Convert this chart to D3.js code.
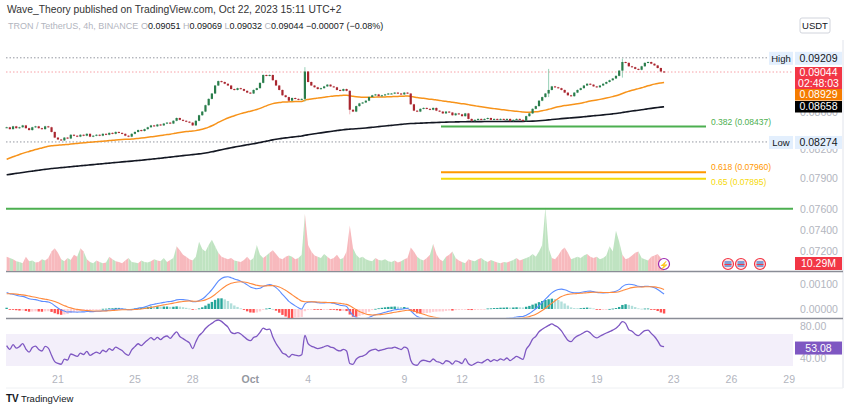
<!DOCTYPE html>
<html>
<head>
<meta charset="utf-8">
<script src="https://cdn.jsdelivr.net/npm/d3@7"></script>
<style>
  body { margin: 0; background: #fff; }
  svg { font-family: "Liberation Sans", Arial, sans-serif; }
</style>
</head>
<body>
<svg id="chart" width="850" height="409"></svg>
<script>
// 4h closes, Sep 18 08:00 -> Oct 22 12:00 (one row per day)
const closes = [
  .0843,.0841,.0844,.0842,
  .0843,.0845,.0842,.0840,.0843,.0844,
  .0842,.0841,.0844,.0843,.0838,.0832,
  .0830,.0829,.0832,.0831,.0835,.0834,
  .0833,.0835,.0834,.0836,.0833,.0834,
  .0835,.0834,.0836,.0835,.0837,.0836,
  .0838,.0837,.0836,.0834,.0833,.0836,
  .0838,.0840,.0839,.0841,.0843,.0845,
  .0844,.0846,.0845,.0847,.0848,.0847,
  .0850,.0853,.0851,.0850,.0849,.0848,
  .0845,.0850,.0856,.0860,.0867,.0874,
  .0880,.0889,.0894,.0893,.0891,.0889,
  .0885,.0884,.0886,.0885,.0883,.0881,
  .0880,.0884,.0886,.0892,.0901,.0900,
  .0901,.0895,.0889,.0884,.0878,.0876,
  .0872,.0875,.0874,.0873,.0874,.0905,
  .0893,.0889,.0887,.0885,.0886,.0888,
  .0890,.0888,.0887,.0884,.0883,.0885,
  .0883,.0862,.0860,.0866,.0869,.0870,
  .0872,.0876,.0878,.0879,.0877,.0878,
  .0879,.0880,.0880,.0881,.0880,.0879,
  .0881,.0880,.0868,.0861,.0860,.0863,
  .0864,.0863,.0862,.0864,.0861,.0860,
  .0858,.0860,.0859,.0856,.0858,.0857,
  .0855,.0858,.0852,.0850,.0851,.0852,
  .0851,.0852,.0853,.0851,.0852,.0851,
  .0852,.0851,.0852,.0850,.0851,.0852,
  .0851,.0850,.0855,.0858,.0863,.0866,
  .0872,.0876,.0880,.0884,.0888,.0887,
  .0886,.0884,.0881,.0878,.0877,.0881,
  .0884,.0886,.0889,.0891,.0890,.0888,
  .0887,.0889,.0891,.0893,.0895,.0897,
  .0900,.0906,.0916,.0915,.0911,.0910,
  .0908,.0907,.0911,.0915,.0916,.0914,
  .0912,.0909,.0905,.09044
];
// volume in millions, same candles
const volumes = [
  22,20,18,15,
  14,12,22,15,16,13,
  14,18,16,20,30,35,
  28,18,15,20,17,25,
  22,35,30,18,14,12,
  16,14,12,13,22,18,
  15,14,12,16,20,14,
  13,12,16,14,13,15,
  18,16,15,20,14,17,
  20,38,32,25,22,18,
  16,22,45,34,30,40,
  48,38,28,22,20,18,
  20,16,15,14,17,22,
  16,20,40,25,20,24,
  28,32,26,20,18,22,
  24,22,18,20,25,88,
  40,30,24,22,20,26,
  22,18,20,25,18,20,
  30,70,35,25,20,22,
  18,16,15,20,17,16,
  18,15,14,16,13,15,
  18,20,36,30,22,18,
  16,20,25,42,26,18,
  15,22,25,30,20,16,
  14,12,18,16,15,18,
  20,16,14,17,15,13,
  12,14,13,15,17,20,
  16,18,20,22,26,22,
  30,40,98,35,20,18,
  24,32,36,28,18,20,
  22,20,24,26,22,20,
  22,18,20,24,38,30,
  62,45,25,18,20,24,
  28,30,20,18,16,22,
  24,26,20,10.29
];
// notable wicks: [candle index, high, low]
const bigWicks = [[93, .0910, .0871], [107, .0884, .0857], [169, .0908, .0876], [192, .0920, .0898]];

// indicator seeds (history before the visible range)
const emaSeeds = { ema50: .0808, ema200: .0793, ema12: .0841, ema26: .0834, signal: .0006 };
const rsiSeeds = { gain: .00010, loss: .00008 };

const priceTicks = [0.072, 0.074, 0.076, 0.079, 0.082, 0.086];
const dayTicks = [0, 4, 7, 10, 13, 18, 21, 25, 28, 32, 35, 38];
const dayLabels = ['21', '25', '28', 'Oct', '4', '9', '12', '16', '19', '23', '26', '29'];
const fibLevels = [
  { label: '0.382 (0.08437)', value: 0.08437, color: '#4caf50', dy: -2 },
  { label: '0.618 (0.07960)', value: 0.07960, color: '#ff9800', dy: -2 },
  { label: '0.65 (0.07895)', value: 0.07895, color: '#f5d90a', dy: 6.5 }
];

const svg = d3.select('#chart');
const L = 6, R = 793;

const x = d3.scaleLinear().domain([-2.7, 38.2]).range([L, R]);
const y = d3.scaleLog().domain([0.0703, 0.0942]).range([270, 40]);
const yVol = d3.scaleLinear().domain([0, 100]).range([271, 206]);
const yMacd = d3.scaleLinear().domain([-0.00036, 0.0015]).range([318, 271.5]);
const yRsi = d3.scaleLinear().domain([0, 100]).range([390, 310]);

const candles = closes.map((c, i) => {
  const open = i === 0 ? c : closes[i - 1];
  let high = Math.max(open, c) + 0.00006, low = Math.min(open, c) - 0.00006;
  const w = bigWicks.find(b => b[0] === i);
  if (w) { high = w[1]; low = w[2]; }
  return { i, day: -3 + (8 + 4 * i) / 24, open, close: c, high, low, vol: volumes[i], up: c >= open };
});

// indicators
const ema = (seed, n) => { const k = 2 / (n + 1); let e = seed; return closes.map(c => (e = c * k + e * (1 - k))); };
const ema50 = ema(emaSeeds.ema50, 50), ema200 = ema(emaSeeds.ema200, 200);
const e12 = ema(emaSeeds.ema12, 12), e26 = ema(emaSeeds.ema26, 26);
const macd = e12.map((v, i) => v - e26[i]);
let sg = emaSeeds.signal;
const signal = macd.map(m => (sg = m * 0.2 + sg * 0.8));
let ag = rsiSeeds.gain, al = rsiSeeds.loss;
const rsi = closes.map((c, i) => {
  const ch = i === 0 ? 0 : c - closes[i - 1];
  ag = (ag * 13 + Math.max(ch, 0)) / 14;
  al = (al * 13 + Math.max(-ch, 0)) / 14;
  return 100 - 100 / (1 + ag / al);
});

// header
svg.append('text').attr('x', 7).attr('y', 13).attr('font-size', 10.3).attr('fill', '#333')
  .text('Wave_Theory published on TradingView.com, Oct 22, 2023 15:11 UTC+2');
const leg = svg.append('text').attr('x', 8).attr('y', 29).attr('font-size', 9).attr('fill', '#b2b5be');
leg.append('tspan').text('TRON / TetherUS, 4h, BINANCE  ');
[['O', '0.09051'], ['H', '0.09069'], ['L', '0.09032'], ['C', '0.09044']].forEach(([k, v]) => {
  leg.append('tspan').text(' ' + k);
  leg.append('tspan').attr('fill', '#131722').text(v + ' ');
});
leg.append('tspan').attr('fill', '#131722').text(' \u22120.00007 (\u22120.08%)');

// frame & pane separators
svg.append('line').attr('x1', R + 50).attr('x2', R + 50).attr('y1', 40).attr('y2', 388).attr('stroke', '#e0e3eb');
svg.append('line').attr('x1', L).attr('x2', R + 50).attr('y1', 388).attr('y2', 388).attr('stroke', '#eef0f3');
[271.5, 318.5].forEach(yy => svg.append('line').attr('x1', L).attr('x2', R + 50).attr('y1', yy).attr('y2', yy)
  .attr('stroke', '#8a8d96').attr('stroke-width', 1.5));

// price axis
svg.append('g').selectAll('text').data(priceTicks).join('text')
  .attr('x', 800).attr('y', d => y(d) + 4).attr('font-size', 10.5).attr('fill', '#b2b5be').text(d => d.toFixed(5));

// volume
const vg = svg.append('g');
candles.forEach((d, i) => {
  if (i === 0) return;
  const p = candles[i - 1];
  vg.append('path').attr('d', `M${x(p.day)},${yVol(0)}L${x(p.day)},${yVol(p.vol)}L${x(d.day)},${yVol(d.vol)}L${x(d.day)},${yVol(0)}Z`)
    .attr('fill', d.up ? '#bfe3c1' : '#f7b9bd');
});

// high / low / current dotted lines
const dotted = (v, color, x2) => svg.append('line').attr('x1', L).attr('x2', x2).attr('y1', y(v)).attr('y2', y(v))
  .attr('stroke', color).attr('stroke-dasharray', '1.5,2');
dotted(0.09209, '#9598a1', 770);
dotted(0.08274, '#9598a1', 770);
dotted(0.09044, '#f7a0a6', R);

// support line & fib levels
svg.append('line').attr('x1', L).attr('x2', R).attr('y1', y(0.076)).attr('y2', y(0.076)).attr('stroke', '#4caf50').attr('stroke-width', 2);
fibLevels.forEach(f => {
  svg.append('line').attr('x1', 441).attr('x2', 706).attr('y1', y(f.value)).attr('y2', y(f.value))
    .attr('stroke', f.color).attr('stroke-width', 2);
  svg.append('text').attr('x', 711).attr('y', y(f.value) + f.dy)
    .attr('font-size', 8.5).attr('fill', f.color).text(f.label);
});

// moving averages
const line = (arr, yy) => d3.line().x((d, i) => x(candles[i].day)).y(d => yy(d)).curve(d3.curveMonotoneX)(arr);
svg.append('path').attr('d', line(ema200, y)).attr('fill', 'none').attr('stroke', '#131722').attr('stroke-width', 1.6);
svg.append('path').attr('d', line(ema50, y)).attr('fill', 'none').attr('stroke', '#f7931a').attr('stroke-width', 1.5);

// candles
const cg = svg.append('g');
candles.forEach(d => {
  const cx = x(d.day);
  cg.append('line').attr('x1', cx).attr('x2', cx).attr('y1', y(d.high)).attr('y2', y(d.low))
    .attr('stroke', d.up ? '#7cc4a4' : '#e89aa1').attr('stroke-width', 0.8);
  const top = y(Math.max(d.open, d.close)), bot = y(Math.min(d.open, d.close));
  cg.append('rect').attr('x', cx - 1.1).attr('width', 2.2).attr('y', top).attr('height', Math.max(1, bot - top))
    .attr('fill', d.up ? '#2a7d4b' : '#a8262f');
});

// MACD pane
const mg = svg.append('g');
macd.forEach((m, i) => {
  const h = m - signal[i], ph = i ? macd[i - 1] - signal[i - 1] : h;
  const col = h >= 0 ? (h >= ph ? '#26a69a' : '#b2dfdb') : (h < ph ? '#ff5252' : '#ffcdd2');
  const y0 = yMacd(0), y1 = yMacd(h);
  mg.append('rect').attr('x', x(candles[i].day) - 1.2).attr('width', 2.4)
    .attr('y', Math.min(y0, y1)).attr('height', Math.max(0.8, Math.abs(y1 - y0))).attr('fill', col);
});
svg.append('defs').append('clipPath').attr('id', 'mclip').append('rect').attr('x', L).attr('y', 272.5).attr('width', R - L).attr('height', 45);
svg.append('path').attr('d', line(macd, yMacd)).attr('clip-path', 'url(#mclip)').attr('fill', 'none').attr('stroke', '#5b8cff').attr('stroke-width', 1.1);
svg.append('path').attr('d', line(signal, yMacd)).attr('clip-path', 'url(#mclip)').attr('fill', 'none').attr('stroke', '#ff8a3d').attr('stroke-width', 1.1);
[[0.001, '0.00100'], [0, '0.00000']].forEach(([v, t]) => svg.append('text').attr('x', 800).attr('y', yMacd(v) + 4)
  .attr('font-size', 10.5).attr('fill', '#b2b5be').text(t));

// RSI pane
svg.append('rect').attr('x', L).attr('width', R - L).attr('y', yRsi(70)).attr('height', yRsi(30) - yRsi(70)).attr('fill', '#f3effa');
svg.append('path').attr('d', line(rsi, yRsi)).attr('fill', 'none').attr('stroke', '#7e57c2').attr('stroke-width', 1.3);
[80, 40].forEach(v => svg.append('text').attr('x', 800).attr('y', yRsi(v) + 4).attr('font-size', 10.5).attr('fill', '#b2b5be').text(v.toFixed(2)));

// time axis
svg.append('g').selectAll('text').data(dayTicks).join('text')
  .attr('x', d => x(d)).attr('y', 383).attr('text-anchor', 'middle').attr('font-size', 10.5)
  .attr('fill', (d, i) => dayLabels[i] === 'Oct' ? '#9598a1' : '#b2b5be')
  .attr('font-weight', (d, i) => dayLabels[i] === 'Oct' ? 'bold' : 'normal')
  .text((d, i) => dayLabels[i]);

// right-side labels
const box = (x0, y0, w, h, bg, lines, fg, size) => {
  svg.append('rect').attr('x', x0).attr('y', y0).attr('width', w).attr('height', h).attr('fill', bg);
  lines.forEach((t, k) => svg.append('text').attr('x', x0 + w / 2).attr('y', y0 + h / lines.length * (k + 0.5) + 3.7)
    .attr('text-anchor', 'middle').attr('font-size', size || 10.5).attr('fill', fg).text(t));
};
box(800, 18, 30, 15, '#fff', ['USDT'], '#131722', 9.5);
svg.append('rect').attr('x', 800).attr('y', 18).attr('width', 30).attr('height', 15).attr('fill', 'none').attr('stroke', '#d1d4dc').attr('rx', 2);
box(769, y(0.09209) - 6, 24, 13, '#e3effd', ['High'], '#131722', 9.5);
box(795, y(0.09209) - 6, 47, 13, '#e3effd', ['0.09209'], '#131722');
box(769, y(0.08274) - 6, 24, 13, '#e3effd', ['Low'], '#131722', 9.5);
box(795, y(0.08274) - 6, 47, 13, '#e3effd', ['0.08274'], '#131722');
box(795, 67, 47, 22, '#f23645', ['0.09044', '02:48:03'], '#fff');
box(795, 89, 47, 11.5, '#f57c00', ['0.08929'], '#fff');
box(795, 101, 47, 11.5, '#000', ['0.08658'], '#fff');
box(795, 257, 47, 13, '#f23645', ['10.29M'], '#fff');
box(795, yRsi(53.08) - 6, 47, 13, '#7e57c2', ['53.08'], '#fff');

// event icons
svg.append('circle').attr('cx', 664).attr('cy', 264).attr('r', 5.5).attr('fill', '#fff').attr('stroke', '#9c27b0').attr('stroke-width', 1.2);
svg.append('text').attr('x', 664).attr('y', 267.5).attr('text-anchor', 'middle').attr('font-size', 8).attr('fill', '#9c27b0').text('\u26A1');
[728, 741, 760].forEach(cx => {
  svg.append('circle').attr('cx', cx).attr('cy', 264).attr('r', 5.5).attr('fill', '#fde3e5').attr('stroke', '#f23645').attr('stroke-width', 1.2);
  svg.append('rect').attr('x', cx - 3.5).attr('y', 261).attr('width', 7).attr('height', 6).attr('fill', '#7fa0d6');
  svg.append('line').attr('x1', cx - 3.5).attr('x2', cx + 3.5).attr('y1', 264.5).attr('y2', 264.5).attr('stroke', '#f23645');
});

// footer logo
svg.append('text').attr('x', 6).attr('y', 402).attr('font-size', 10).attr('font-weight', 'bold').attr('fill', '#131722').text('TV');
svg.append('text').attr('x', 21).attr('y', 402).attr('font-size', 9.5).attr('fill', '#131722').text('TradingView');
</script>
</body>
</html>
